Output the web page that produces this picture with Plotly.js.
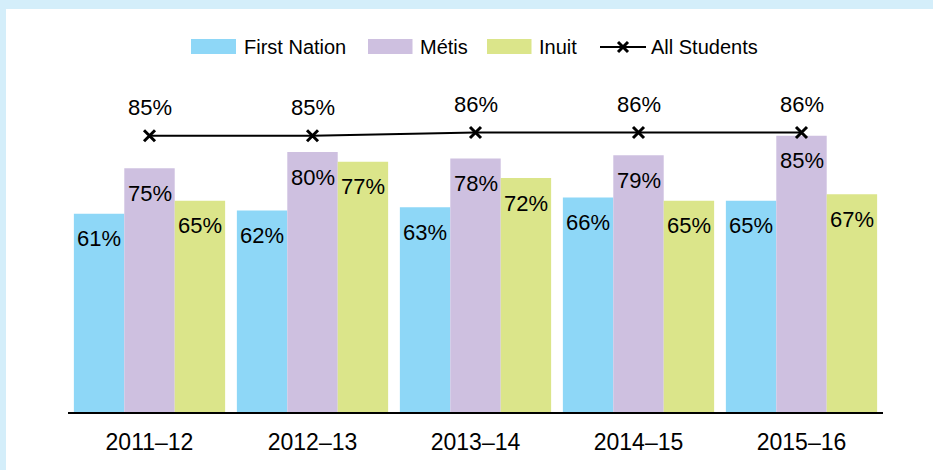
<!DOCTYPE html>
<html>
<head>
<meta charset="utf-8">
<script src="https://cdn.plot.ly/plotly-3.0.1.min.js"></script>
<style>
  html, body { margin: 0; padding: 0; background: #ffffff; }
  #frame { width: 927px; height: 461px; border-top: 9px solid #d4eefa; border-left: 6px solid #d4eefa; background: #fff; }
  #chart { width: 927px; height: 461px; }
</style>
</head>
<body>
<div id="frame"><div id="chart"></div></div>
<script>
// ---- data ----
const years = ["2011–12", "2012–13", "2013–14", "2014–15", "2015–16"];
const firstNation = [61, 62, 63, 66, 65];
const metis = [75, 80, 78, 79, 85];
const inuit = [65, 77, 72, 65, 67];
const allStudents = [85, 85, 86, 86, 86];
const seriesNames = ["First Nation", "Métis", "Inuit", "All Students"];
const colors = ["#8ed7f7", "#cec0e0", "#dbe58a", "#000000"];

// ---- layout geometry ----
const W = 927, H = 461;
const M = { l: 62, r: 50, t: 52, b: 58 };
const PW = W - M.l - M.r, PH = H - M.t - M.b;
const OFF_X = 6, OFF_Y = 9; // frame offset of the chart div in the page
const px2x = px => (px - OFF_X - M.l) / PW;
const py2y = py => 1 - (py - OFF_Y - M.t) / PH;
const bargap = 0.072;
const barW = (1 - bargap) / 3;
const font = "Arial, 'Liberation Sans', sans-serif";

const barSeries = [firstNation, metis, inuit];
const traces = barSeries.map((vals, k) => ({
  type: "bar", x: years, y: vals, name: seriesNames[k],
  marker: { color: colors[k] }, showlegend: false, hoverinfo: "skip"
}));
traces.push({
  type: "scatter", mode: "lines+markers", x: years, y: allStudents, name: seriesNames[3],
  line: { color: "#000", width: 2.2 },
  marker: { symbol: "x-thin", size: 11, color: "#000", line: { color: "#000", width: 3 } },
  showlegend: false, hoverinfo: "skip"
});

const annotations = [];
barSeries.forEach((vals, k) => {
  vals.forEach((v, i) => {
    annotations.push({
      x: i + (k - 1) * barW, y: v, xref: "x", yref: "y", text: v + "%",
      showarrow: false, yanchor: "middle", yshift: -25,
      font: { family: font, size: 22, color: "#000" }
    });
  });
});
allStudents.forEach((v, i) => {
  annotations.push({
    x: i, y: v, xref: "x", yref: "y", text: v + "%",
    showarrow: false, yanchor: "middle", yshift: 28,
    font: { family: font, size: 22, color: "#000" }
  });
});

// ---- custom legend ----
const shapes = [];
const legendItems = [
  { x0: 191, x1: 236, tx: 242 },
  { x0: 368, x1: 412.5, tx: 418 },
  { x0: 487, x1: 531.5, tx: 537 }
];
legendItems.forEach((it, k) => {
  shapes.push({ type: "rect", xref: "paper", yref: "paper",
    x0: px2x(it.x0), x1: px2x(it.x1), y0: py2y(54), y1: py2y(39),
    fillcolor: colors[k], line: { width: 0 } });
  annotations.push({ xref: "paper", yref: "paper", x: px2x(it.tx), y: py2y(47),
    xanchor: "left", yanchor: "middle", text: seriesNames[k], showarrow: false,
    font: { family: font, size: 20, color: "#000" } });
});
shapes.push({ type: "line", xref: "paper", yref: "paper",
  x0: px2x(600), x1: px2x(646), y0: py2y(47), y1: py2y(47), line: { color: "#000", width: 2.2 } });
shapes.push({ type: "line", xref: "paper", yref: "paper",
  x0: px2x(618), x1: px2x(628), y0: py2y(42), y1: py2y(52), line: { color: "#000", width: 3 } });
shapes.push({ type: "line", xref: "paper", yref: "paper",
  x0: px2x(618), x1: px2x(628), y0: py2y(52), y1: py2y(42), line: { color: "#000", width: 3 } });
annotations.push({ xref: "paper", yref: "paper", x: px2x(649), y: py2y(47),
  xanchor: "left", yanchor: "middle", text: seriesNames[3], showarrow: false,
  font: { family: font, size: 20, color: "#000" } });

const layout = {
  width: W, height: H, margin: M,
  paper_bgcolor: "#fff", plot_bgcolor: "#fff",
  barmode: "group", bargap: bargap, bargroupgap: 0,
  showlegend: false, hovermode: false,
  font: { family: font, size: 20, color: "#000" },
  xaxis: {
    type: "category", showline: true, linecolor: "#000", linewidth: 2,
    showgrid: false, zeroline: false, ticks: "outside", ticklen: 8,
    tickcolor: "rgba(0,0,0,0)", tickfont: { family: font, size: 23, color: "#000" },
    fixedrange: true
  },
  yaxis: { range: [0, 108], visible: false, showgrid: false, zeroline: false, fixedrange: true },
  annotations: annotations,
  shapes: shapes
};

Plotly.newPlot("chart", traces, layout, { displayModeBar: false, staticPlot: true });
</script>
</body>
</html>
